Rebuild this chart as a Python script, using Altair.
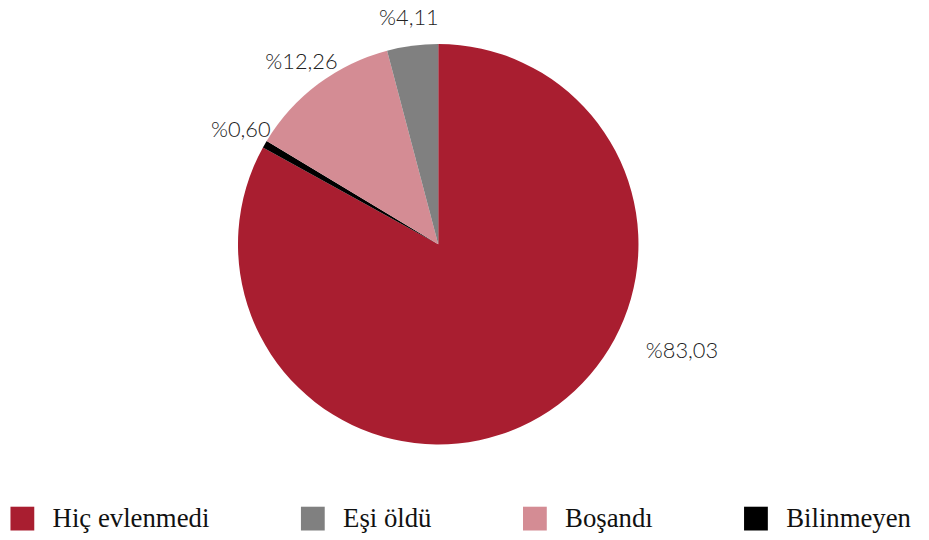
import altair as alt
import pandas as pd

categories = ["Hiç evlenmedi", "Bilinmeyen", "Boşandı", "Eşi öldü"]
values = [83.03, 0.60, 12.26, 4.11]
labels = ["%83,03", "%0,60", "%12,26", "%4,11"]
order = [0, 1, 2, 3]

legend_order = ["Hiç evlenmedi", "Eşi öldü", "Boşandı", "Bilinmeyen"]
colors = ["#A91E30", "#808080", "#D48C94", "#000000"]

df = pd.DataFrame({"kategori": categories, "deger": values, "etiket": labels, "sira": order})

base = alt.Chart(df).encode(
    theta=alt.Theta("deger:Q", stack=True),
    order=alt.Order("sira:Q"),
)

pie = base.mark_arc(outerRadius=202, stroke=None).encode(
    color=alt.Color(
        "kategori:N",
        scale=alt.Scale(domain=legend_order, range=colors),
        legend=alt.Legend(
            title=None,
            orient="none",
            legendX=-3,
            legendY=499,
            direction="horizontal",
            columns=4,
            columnPadding=90,
            symbolType="square",
            symbolSize=576,
            symbolStrokeWidth=0,
            symbolOpacity=1,
            labelFont="Liberation Serif",
            labelFontSize=27,
            labelColor="#111111",
            labelOffset=17,
            labelLimit=300,
        ),
    )
)

text_style = dict(radius=230, font="Lato", fontWeight=300, fontSize=22, color="#222222")

text_small = base.mark_text(**text_style).encode(
    text="etiket:N",
    opacity=alt.condition("datum.sira > 0", alt.value(1), alt.value(0)),
)

text_big = base.mark_text(dx=129, dy=-90, **text_style).encode(
    text="etiket:N",
    opacity=alt.condition("datum.sira == 0", alt.value(1), alt.value(0)),
)

chart = (
    alt.layer(pie, text_small, text_big)
    .properties(
        width=860,
        height=472,
        autosize=alt.AutoSizeParams(type="none"),
        padding={"left": 4, "top": 0, "right": 57, "bottom": 60},
    )
    .configure_view(stroke=None)
)

chart.save("out.html", embed_options={"renderer": "svg", "actions": False})
